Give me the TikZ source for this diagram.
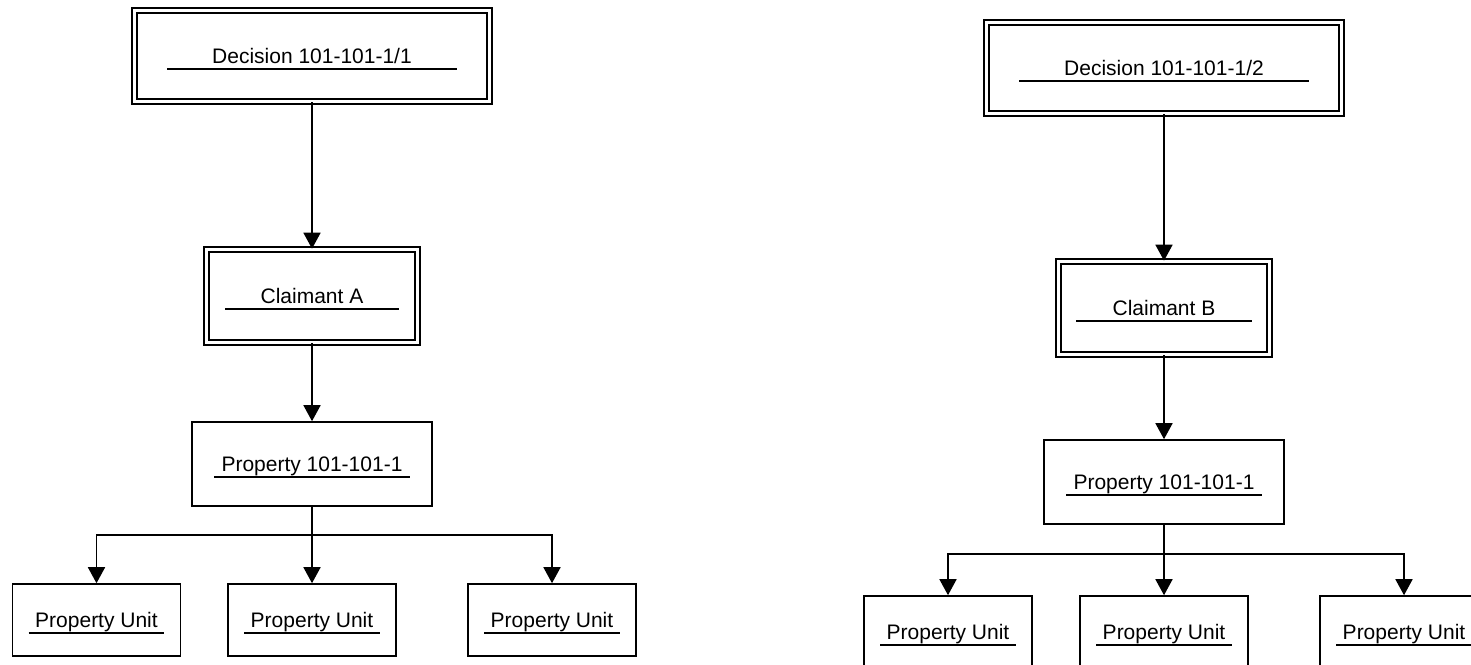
\documentclass[tikz,border=0pt]{standalone}
\usepackage{fontspec}
\setmainfont{Liberation Sans}
\usetikzlibrary{positioning, arrows.meta}

\begin{document}
\begin{tikzpicture}[
    x=0.5pt, y=-0.5pt,
    line width=0.8pt,
    on grid,
    font=\fontsize{10.5}{12}\selectfont,
    >={Triangle[length=8pt, width=8.5pt]},
    box/.style={draw, rectangle, text height=7.5pt, text depth=0pt, inner sep=0pt},
    dbox/.style={box, double, double distance=1.6pt},
    decision/.style={dbox, minimum width=177.5pt, minimum height=45.5pt},
    claimant/.style={dbox, minimum width=105.5pt, minimum height=46.5pt},
    property/.style={box, minimum width=120pt, minimum height=42pt},
    unit/.style={box, minimum width=84pt, minimum height=36pt}
]
    \useasboundingbox (0,0) rectangle (1471,664);

    % Left tree
    \node[decision] (decA) at (312,56) {Decision 101-101-1/1};
    \node[claimant, below=120pt of decA] (claimA) {Claimant A};
    \node[property, below=84pt of claimA] (propA) {Property 101-101-1};
    \node[unit, below=78pt of propA] (unitA2) {Property Unit};
    \node[unit, left=107.75pt of unitA2] (unitA1) {Property Unit};
    \node[unit, right=120pt of unitA2] (unitA3) {Property Unit};
    \coordinate (jA) at ([yshift=-14pt]propA.south);

    % Right tree
    \node[decision] (decB) at (1164,68) {Decision 101-101-1/2};
    \node[claimant, below=120pt of decB] (claimB) {Claimant B};
    \node[property, below=87pt of claimB] (propB) {Property 101-101-1};
    \node[unit, below=75pt of propB] (unitB2) {Property Unit};
    \node[unit, left=108pt of unitB2] (unitB1) {Property Unit};
    \node[unit, right=120pt of unitB2] (unitB3) {Property Unit};
    \coordinate (jB) at ([yshift=-14.5pt]propB.south);

    % Underlines
    \foreach \n/\i in {decA/16.75, claimA/9.75, propA/11.5, unitA1/8.5, unitA2/8.5, unitA3/8.5,
                       decB/16.75, claimB/9.25, propB/11.5, unitB1/8.5, unitB2/8.5, unitB3/8.5}
        \draw ([xshift=\i pt, yshift=-6.5pt]\n.west) -- ([xshift=-\i pt, yshift=-6.5pt]\n.east);

    % Connectors
    \draw[->] (decA) -- (claimA);
    \draw[->] (claimA) -- (propA);
    \draw[->] (propA) -- (unitA2);
    \draw[->] (jA) -| (unitA1);
    \draw[->] (jA) -| (unitA3);

    \draw[->] (decB) -- (claimB);
    \draw[->] (claimB) -- (propB);
    \draw[->] (propB) -- (unitB2);
    \draw[->] (jB) -| (unitB1);
    \draw[->] (jB) -| (unitB3);
\end{tikzpicture}
\end{document}
